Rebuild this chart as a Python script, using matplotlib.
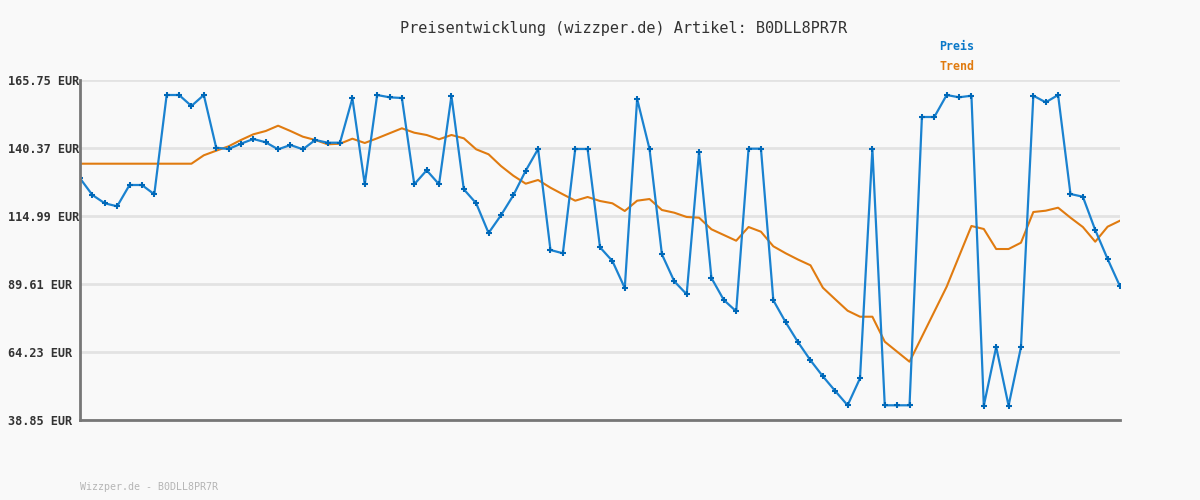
import matplotlib.pyplot as plt

# Price data (85 points)
preis = [129.06, 122.83, 119.73, 118.61, 126.56, 126.56, 123.09, 160.15, 160.15, 156.05,
         160.15, 140.48, 140.0, 141.97, 143.73, 142.5, 139.88, 141.49, 139.88, 143.36,
         142.35, 142.35, 158.92, 126.82, 160.15, 159.29, 159.03, 126.82, 132.05, 126.82,
         159.78, 124.95, 119.73, 108.64, 115.25, 122.72, 131.9, 140.0, 102.3, 101.07,
         140.0, 140.0, 103.31, 98.19, 88.12, 158.66, 140.0, 100.69, 90.62, 85.76,
         138.88, 91.85, 83.64, 79.42, 140.11, 140.11, 83.53, 75.31, 67.85, 61.13,
         55.16, 49.67, 44.34, 54.41, 140.0, 44.34, 44.34, 44.34, 151.94, 151.94,
         160.15, 159.29, 159.89, 44.2, 66.1, 44.2, 66.0, 159.89, 157.43, 160.15,
         123.2, 122.19, 109.76, 98.94, 88.75]

trend = [134.51, 134.51, 134.51, 134.51, 134.51, 134.51, 134.51, 134.51, 134.51, 134.51,
         137.65, 139.36, 141.0, 143.36, 145.48, 146.71, 148.69, 146.71, 144.59, 143.36,
         141.75, 141.97, 143.84, 142.24, 143.99, 145.86, 147.72, 146.08, 145.22, 143.62,
         145.22, 143.99, 139.88, 138.02, 133.65, 130.03, 127.05, 128.43, 125.55, 123.09,
         120.7, 122.08, 120.59, 119.73, 116.86, 120.7, 121.33, 117.23, 116.22, 114.62,
         114.36, 110.03, 107.9, 105.77, 110.88, 109.13, 103.68, 101.07, 98.72, 96.59,
         88.23, 83.9, 79.64, 77.4, 77.4, 68.07, 64.34, 60.61, 69.94, 79.27,
         88.6, 99.95, 111.26, 110.14, 102.67, 102.67, 105.02, 116.48, 116.97, 118.09,
         114.36, 110.88, 105.4, 111.0, 113.24]

y_ticks = [38.85, 64.23, 89.61, 114.99, 140.37, 165.75]
artikel = "B0DLL8PR7R"

bg = '#f9f9f9'
blue = '#0a78c8'
orange = '#e07b10'

fig = plt.figure(figsize=(12, 5), dpi=100, facecolor=bg)
ax = fig.add_axes([80 / 1200, 80 / 500, 1040 / 1200, 340 / 500], facecolor=bg)

x = list(range(len(preis)))
ax.plot(x, trend, color=orange, linewidth=1.5, zorder=3)
ax.plot(x, preis, color='#1a82d0', linewidth=1.6, marker='+', markersize=4,
        markeredgewidth=1.5, markeredgecolor='#0068b8', zorder=4)

ax.set_xlim(0, len(preis) - 1)
ax.set_ylim(y_ticks[0], y_ticks[-1])
ax.set_xticks([])
ax.set_yticks(y_ticks)
ax.set_yticklabels(['%.2f EUR' % v for v in y_ticks], family='DejaVu Sans Mono',
                   fontsize=8.6, fontweight='bold', color='#333333')
for lab in ax.get_yticklabels():
    lab.set_horizontalalignment('left')
ax.tick_params(axis='y', length=0, pad=52)
ax.grid(axis='y', color='#e3e3e3', linewidth=2)
ax.set_axisbelow(True)

for s in ['top', 'right']:
    ax.spines[s].set_visible(False)
for s in ['left', 'bottom']:
    ax.spines[s].set_color('#777777')
    ax.spines[s].set_linewidth(2)
    ax.spines[s].set_zorder(5)

fig.text(624 / 1200, 1 - 28 / 500, 'Preisentwicklung (wizzper.de) Artikel: ' + artikel,
         ha='center', va='center', family='DejaVu Sans Mono', fontsize=11, color='#333333')
fig.text(957 / 1200, 1 - 47 / 500, 'Preis', ha='center', va='center',
         family='DejaVu Sans Mono', fontsize=8.4, fontweight='bold', color=blue)
fig.text(957 / 1200, 1 - 67 / 500, 'Trend', ha='center', va='center',
         family='DejaVu Sans Mono', fontsize=8.4, fontweight='bold', color=orange)
fig.text(80 / 1200, 1 - 487 / 500, 'Wizzper.de - ' + artikel, ha='left', va='center',
         family='DejaVu Sans Mono', fontsize=7.2, color='#b5b5b5')

fig.savefig('out.png', dpi=100, facecolor=bg)
